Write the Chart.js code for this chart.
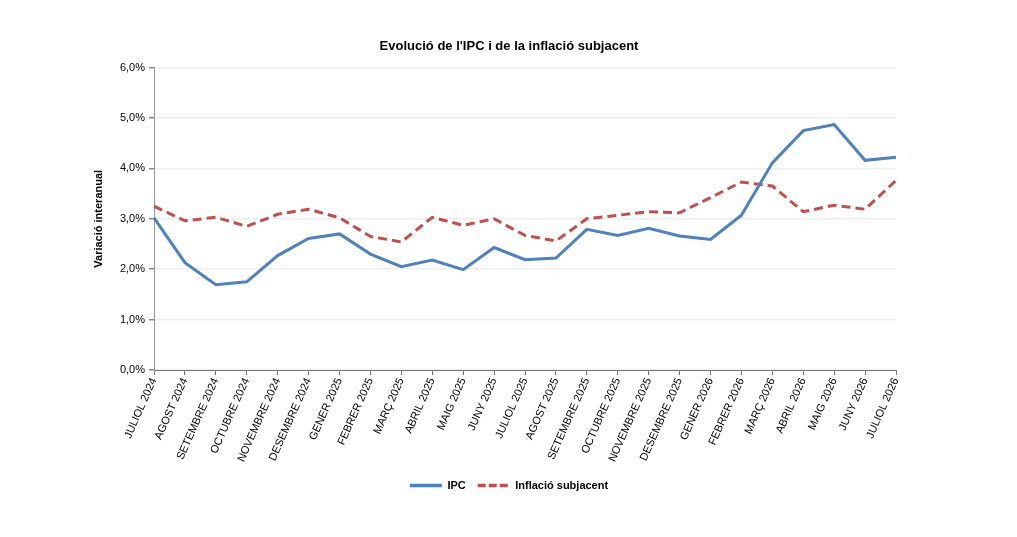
<!DOCTYPE html>
<html>
<head>
<meta charset="utf-8">
<script src="https://cdn.jsdelivr.net/npm/chart.js@4.4.1/dist/chart.umd.min.js"></script>
<style>
  html, body { margin: 0; padding: 0; background: #fff; }
  #wrap { width: 1017px; height: 537px; }
</style>
</head>
<body>
<div id="wrap"><canvas id="chart"></canvas></div>
<script>
const months = [
  'JULIOL 2024', 'AGOST 2024', 'SETEMBRE 2024', 'OCTUBRE 2024', 'NOVEMBRE 2024', 'DESEMBRE 2024',
  'GENER 2025', 'FEBRER 2025', 'MARÇ 2025', 'ABRIL 2025', 'MAIG 2025', 'JUNY 2025',
  'JULIOL 2025', 'AGOST 2025', 'SETEMBRE 2025', 'OCTUBRE 2025', 'NOVEMBRE 2025', 'DESEMBRE 2025',
  'GENER 2026', 'FEBRER 2026', 'MARÇ 2026', 'ABRIL 2026', 'MAIG 2026', 'JUNY 2026', 'JULIOL 2026'
];
const ipc = [3.02, 2.13, 1.69, 1.75, 2.27, 2.61, 2.70, 2.30, 2.05, 2.18, 1.99, 2.43,
  2.19, 2.22, 2.79, 2.67, 2.81, 2.66, 2.59, 3.07, 4.11, 4.75, 4.87, 4.16, 4.22];
const subjacent = [3.25, 2.96, 3.03, 2.85, 3.09, 3.19, 3.02, 2.65, 2.54, 3.03, 2.87, 3.00,
  2.67, 2.56, 3.00, 3.07, 3.14, 3.12, 3.42, 3.73, 3.65, 3.14, 3.27, 3.19, 3.76];

const font = 'Liberation Sans, Arial, sans-serif';

new Chart(document.getElementById('chart'), {
  type: 'line',
  data: {
    labels: months,
    datasets: [
      {
        label: 'IPC',
        data: ipc,
        borderColor: '#4f81bd',
        backgroundColor: '#4f81bd',
        borderWidth: 3,
        pointRadius: 0,
        pointStyle: 'line',
        tension: 0
      },
      {
        label: 'Inflació subjacent',
        data: subjacent,
        borderColor: '#c0504d',
        backgroundColor: '#c0504d',
        borderWidth: 3,
        borderDash: [9, 5],
        pointRadius: 0,
        pointStyle: 'line',
        tension: 0
      }
    ]
  },
  options: {
    responsive: true,
    maintainAspectRatio: false,
    animation: false,
    // left/right padding kept nearly equal so title and legend centre on the page
    layout: { padding: { left: 88, right: 87, top: 0, bottom: 36 } },
    plugins: {
      title: {
        display: true,
        text: "Evolució de l'IPC i de la inflació subjacent",
        color: '#000',
        font: { family: font, size: 13, weight: 'bold' },
        padding: { top: 39, bottom: 13 }
      },
      legend: {
        position: 'bottom',
        labels: {
          color: '#000',
          font: { family: font, size: 11, weight: 'bold' },
          usePointStyle: true,
          pointStyleWidth: 32,
          boxHeight: 11,
          padding: 12,
          // point style drops the dash, so copy it back from the dataset
          generateLabels: chart => {
            const items = Chart.defaults.plugins.legend.labels.generateLabels(chart);
            items.forEach(it => {
              const ds = chart.data.datasets[it.datasetIndex];
              it.lineDash = [8, 3];
              if (!ds.borderDash) it.lineDash = [];
              it.lineWidth = 3.5;
            });
            return items;
          }
        }
      },
      tooltip: { enabled: false }
    },
    scales: {
      x: {
        grid: { drawOnChartArea: false, drawTicks: true, tickLength: 5, color: '#777' },
        border: { color: '#777', width: 1 },
        ticks: {
          color: '#000',
          font: { family: font, size: 11 },
          minRotation: 66,
          maxRotation: 66,
          autoSkip: false,
          padding: 1
        },
        afterFit: s => { s.height = 98; }
      },
      y: {
        min: 0,
        max: 6,
        title: {
          display: true,
          text: 'Variació interanual',
          color: '#000',
          font: { family: font, size: 11, weight: 'bold' },
          padding: 4
        },
        grid: { color: '#eeeeee', lineWidth: 1.5, tickColor: '#888', tickLength: 5 },
        border: { color: '#999', width: 1 },
        ticks: {
          stepSize: 1,
          color: '#000',
          font: { family: font, size: 11 },
          padding: 4,
          callback: v => v.toFixed(1).replace('.', ',') + '%'
        },
        afterFit: s => { s.width = 66; }
      },
      // empty spacer on the right, only to keep the plot area where it is
      yRight: {
        position: 'right',
        display: true,
        grid: { display: false },
        border: { display: false },
        ticks: { display: false },
        afterFit: s => { s.width = 34; }
      }
    }
  }
});
</script>
</body>
</html>
